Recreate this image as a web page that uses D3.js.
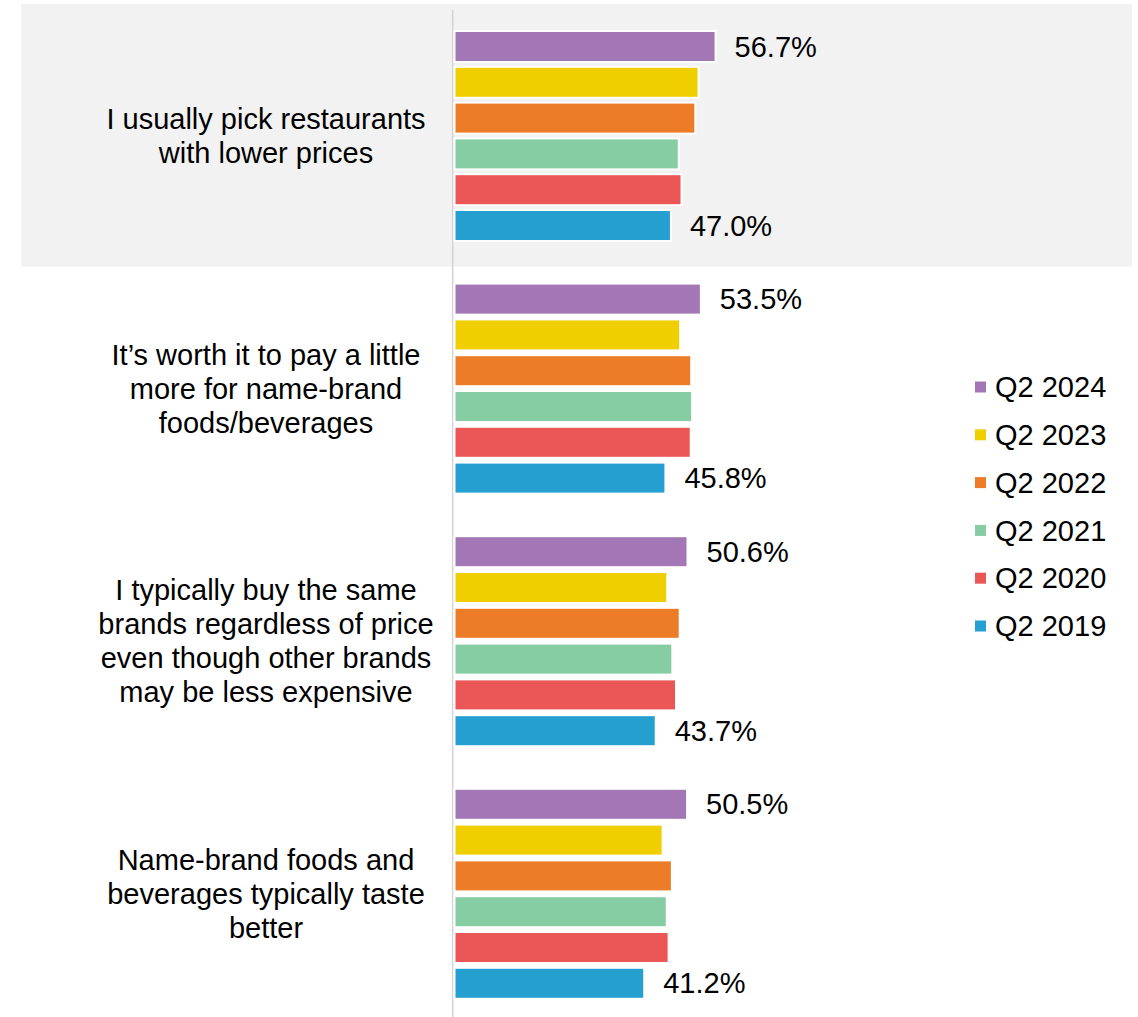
<!DOCTYPE html>
<html>
<head>
<meta charset="utf-8">
<script src="https://cdn.jsdelivr.net/npm/d3@7"></script>
<style>
  html, body { margin: 0; padding: 0; background: #ffffff; }
  svg { display: block; font-family: "Liberation Sans", Arial, sans-serif; }
</style>
</head>
<body>
<svg id="chart" width="1138" height="1017"></svg>
<script>
// ---- Data ----
const categories = [
  "I usually pick restaurants\nwith lower prices",
  "It’s worth it to pay a little\nmore for name-brand\nfoods/beverages",
  "I typically buy the same\nbrands regardless of price\neven though other brands\nmay be less expensive",
  "Name-brand foods and\nbeverages typically taste\nbetter"
];
const seriesNames = ["Q2 2024", "Q2 2023", "Q2 2022", "Q2 2021", "Q2 2020", "Q2 2019"];
const seriesColors = ["#A377B6", "#F0CF00", "#EC7C27", "#86CDA4", "#EB5757", "#259FD0"];
const values2024 = [56.7, 53.5, 50.6, 50.5];
const values2023 = [53.0, 49.0, 46.2, 45.2];
const values2022 = [52.3, 51.4, 48.9, 47.2];
const values2021 = [48.7, 51.6, 47.3, 46.1];
const values2020 = [49.3, 51.3, 48.1, 46.5];
const values2019 = [47.0, 45.8, 43.7, 41.2];
const seriesValues = [values2024, values2023, values2022, values2021, values2020, values2019];
const labeledSeries = ["Q2 2024", "Q2 2019"];
const highlightedCategory = 0;

// ---- Layout ----
const svg = d3.select("#chart");
const fontSize = 29;
const lineH = 34;

const y = d3.scaleBand().domain(d3.range(categories.length)).range([9.7, 9.7 + 4 * 252.6]).padding(0);
const yInner = d3.scaleBand().domain(seriesNames).range([0, y.bandwidth()])
  .paddingInner(0.134).paddingOuter(0.595);
const x = d3.scaleLinear().domain([0, 60]).range([454.5, 454.5 + 60 * 4.605]);

// highlight band
svg.append("rect")
  .attr("x", 21).attr("width", 1111)
  .attr("y", y(highlightedCategory) - 5.7).attr("height", y.bandwidth() + 10)
  .attr("fill", "#f2f2f2");

// axis line
svg.append("line")
  .attr("x1", x(0) - 1.8).attr("x2", x(0) - 1.8)
  .attr("y1", 10).attr("y2", 1017)
  .attr("stroke", "#d4d4d4").attr("stroke-width", 1.6);

// bars
const groups = svg.selectAll("g.cat").data(categories).enter().append("g")
  .attr("class", "cat")
  .attr("transform", (d, i) => `translate(0,${y(i)})`);

groups.each(function (cat, ci) {
  const g = d3.select(this);
  seriesNames.forEach((s, si) => {
    const v = seriesValues[si][ci];
    g.append("rect")
      .attr("x", x(0))
      .attr("y", yInner(s))
      .attr("width", x(v) - x(0))
      .attr("height", yInner.bandwidth())
      .attr("fill", seriesColors[si])
      .attr("stroke", "#ffffff")
      .attr("stroke-width", 2);
    if (labeledSeries.includes(s)) {
      g.append("text")
        .attr("x", x(v) + 19)
        .attr("y", yInner(s) + yInner.bandwidth() / 2)
        .attr("dy", "0.35em")
        .attr("font-size", fontSize)
        .attr("fill", "#000")
        .text(v.toFixed(1) + "%");
    }
  });

  // category label
  const lines = cat.split("\n");
  const cy = y.bandwidth() / 2;
  const t = g.append("text")
    .attr("text-anchor", "middle")
    .attr("font-size", fontSize)
    .attr("fill", "#000");
  lines.forEach((ln, li) => {
    t.append("tspan")
      .attr("x", 266)
      .attr("y", cy + (li - (lines.length - 1) / 2) * lineH)
      .attr("dy", "0.35em")
      .text(ln);
  });
});

// legend
const legend = svg.append("g");
seriesNames.forEach((s, i) => {
  const ly = 387 + i * 47.8;
  legend.append("rect")
    .attr("x", 975).attr("y", ly - 5.5)
    .attr("width", 11).attr("height", 11)
    .attr("fill", seriesColors[i]);
  legend.append("text")
    .attr("x", 995).attr("y", ly)
    .attr("dy", "0.35em")
    .attr("font-size", fontSize)
    .attr("fill", "#000")
    .text(s);
});
</script>
</body>
</html>
